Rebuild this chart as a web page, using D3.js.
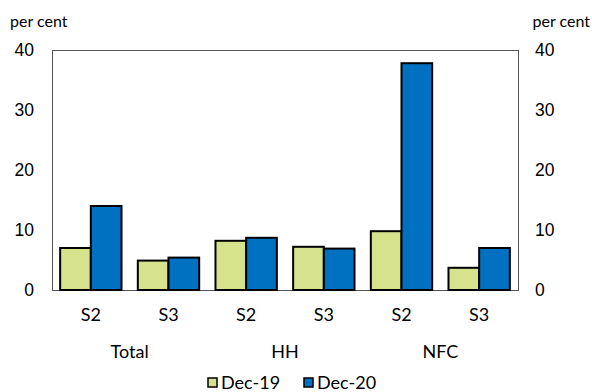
<!DOCTYPE html>
<html>
<head>
<meta charset="utf-8">
<script src="https://cdn.jsdelivr.net/npm/d3@7"></script>
<style>
  body { margin: 0; background: #fff; }
  svg { display: block; }
</style>
</head>
<body>
<svg id="chart" width="592" height="392"></svg>
<script>
// categories and values
const groups = ['Total', 'HH', 'NFC'];
const stages = ['S2', 'S3', 'S2', 'S3', 'S2', 'S3'];
const seriesNames = ['Dec-19', 'Dec-20'];
const dec19 = [7.0, 4.9, 8.2, 7.2, 9.8, 3.7];
const dec20 = [14.0, 5.4, 8.7, 6.9, 37.8, 7.0];
const yTicks = [0, 10, 20, 30, 40];

const colors = { 'Dec-19': '#d7e38c', 'Dec-20': '#0070c0' };

const margin = { top: 50, right: 74, bottom: 102, left: 52 };
const width = 592 - margin.left - margin.right;
const height = 392 - margin.top - margin.bottom;

const svg = d3.select('#chart');
const g = svg.append('g').attr('transform', `translate(${margin.left},${margin.top})`);

const x = d3.scaleBand().domain(d3.range(stages.length)).range([0, width]).paddingInner(0.21).paddingOuter(0.105);
const xSub = d3.scaleBand().domain(seriesNames).range([0, x.bandwidth()]);
const y = d3.scaleLinear().domain([0, 40]).range([height, 0]);

// frame
g.append('rect')
    .attr('x', 0.5).attr('y', 0.5)
    .attr('width', width)
    .attr('height', height)
    .attr('fill', 'none')
    .attr('stroke', '#555')
    .attr('stroke-width', 1);

// bars
const data = stages.map((s, i) => ({ i: i, values: [dec19[i], dec20[i]] }));
g.selectAll('.grp')
    .data(data)
    .enter()
    .append('g')
    .attr('transform', d => `translate(${x(d.i)},0)`)
    .selectAll('rect')
    .data(d => seriesNames.map((n, k) => ({ name: n, value: d.values[k] })))
    .enter()
    .append('rect')
    .attr('x', d => xSub(d.name))
    .attr('y', d => y(d.value))
    .attr('width', xSub.bandwidth())
    .attr('height', d => y(0) - y(d.value))
    .attr('fill', d => colors[d.name])
    .attr('stroke', '#000')
    .attr('stroke-width', 2);

// y axes, both sides
const tickFont = '"Liberation Sans", Arial, sans-serif';
const yl = g.append('g').call(d3.axisLeft(y).tickValues(yTicks).tickSize(0).tickPadding(18));
const yr = g.append('g').attr('transform', `translate(${width},0)`)
    .call(d3.axisRight(y).tickValues(yTicks).tickSize(0).tickPadding(17));
[yl, yr].forEach(a => {
    a.select('.domain').remove();
    a.selectAll('text').attr('font-family', tickFont).attr('font-size', 17.5).attr('fill', '#000');
});

const labelFont = 'Lato, "Open Sans", sans-serif';

// unit labels
svg.append('text').attr('x', 10).attr('y', 27)
    .attr('font-family', labelFont).attr('font-size', 16).text('per cent');
svg.append('text').attr('x', 590).attr('y', 27).attr('text-anchor', 'end')
    .attr('font-family', labelFont).attr('font-size', 16).text('per cent');

// stage labels
g.selectAll('.stage')
    .data(stages)
    .enter()
    .append('text')
    .attr('x', (d, i) => x(i) + x.bandwidth() / 2)
    .attr('y', height + 31)
    .attr('text-anchor', 'middle')
    .attr('font-family', labelFont)
    .attr('font-size', 18)
    .text(d => d);

// group labels, centred between each pair
g.selectAll('.group')
    .data(groups)
    .enter()
    .append('text')
    .attr('x', (d, i) => (x(i * 2) + x(i * 2 + 1) + x.bandwidth()) / 2)
    .attr('y', height + 68)
    .attr('text-anchor', 'middle')
    .attr('font-family', labelFont)
    .attr('font-size', 18)
    .text(d => d);

// legend
const legendX = [208, 304];
const legend = svg.selectAll('.legend')
    .data(seriesNames)
    .enter()
    .append('g')
    .attr('transform', (d, i) => `translate(${legendX[i]},378)`);
legend.append('rect')
    .attr('width', 9).attr('height', 9)
    .attr('fill', d => colors[d])
    .attr('stroke', '#000').attr('stroke-width', 1.5);
legend.append('text')
    .attr('x', 13).attr('y', 11)
    .attr('font-family', labelFont)
    .attr('font-size', 18)
    .text(d => d);
</script>
</body>
</html>
